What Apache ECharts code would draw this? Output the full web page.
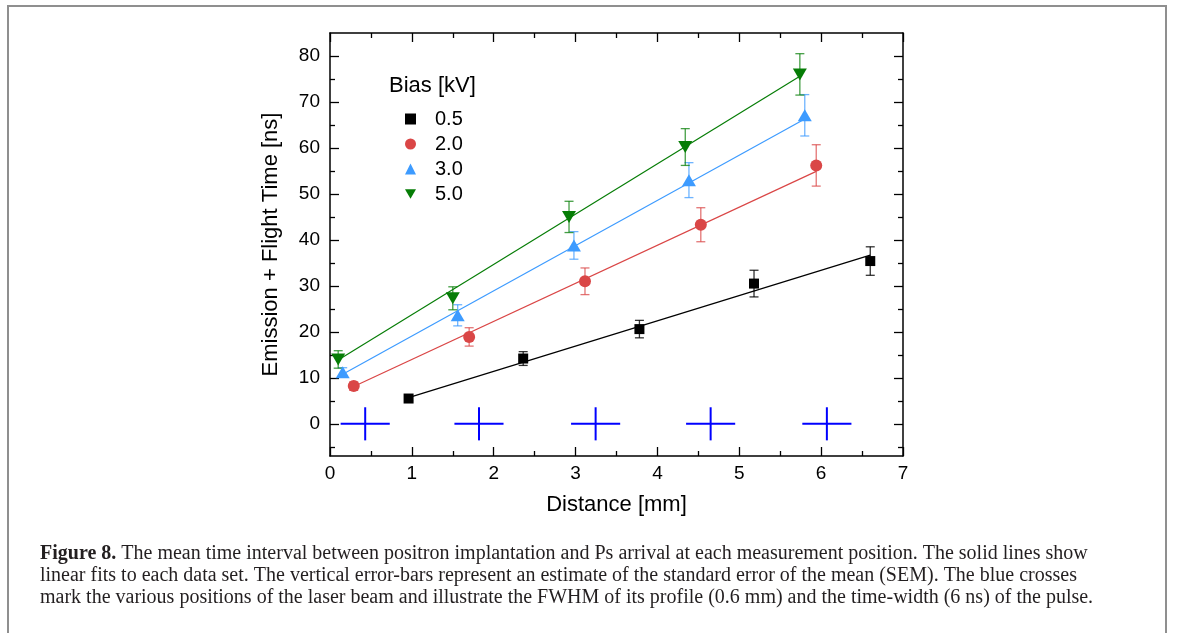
<!DOCTYPE html>
<html>
<head>
<meta charset="utf-8">
<script src="https://cdn.jsdelivr.net/npm/echarts@6/dist/echarts.min.js"></script>
<style>
html,body{margin:0;padding:0;background:#fff;}
#chart{width:1181px;height:633px;}
</style>
</head>
<body>
<div id="chart"></div>
<script>
// ---- data ----
const seriesNames = ['0.5', '2.0', '3.0', '5.0'];
const xBlack = [0.96, 2.36, 3.78, 5.18, 6.60];
const yBlack = [5.5, 14.2, 20.6, 30.5, 35.4];
const eBlack = [0.5, 1.5, 1.9, 2.9, 3.1];
const xRed = [0.29, 1.70, 3.115, 4.53, 5.94];
const yRed = [8.2, 18.9, 31.0, 43.3, 56.2];
const eRed = [0.9, 2.0, 2.9, 3.7, 4.5];
const xBlue = [0.155, 1.56, 2.98, 4.385, 5.80];
const yBlue = [11.2, 23.6, 38.8, 53.0, 67.1];
const eBlue = [1.0, 2.3, 3.0, 3.8, 4.5];
const xGreen = [0.10, 1.50, 2.92, 4.34, 5.74];
const yGreen = [14.0, 27.3, 45.0, 60.2, 76.0];
const eGreen = [1.9, 2.5, 3.4, 4.0, 4.5];
// linear fit end points
const fitBlack = [[0.96, 5.7], [6.60, 36.7]];
const fitRed = [[0.29, 8.1], [5.94, 54.9]];
const fitBlue = [[0.155, 10.8], [5.80, 66.3]];
const fitGreen = [[0.10, 13.9], [5.74, 75.6]];
// laser beam positions (blue crosses): centre x, centre y, half FWHM, half time-width
const crossX = [0.43, 1.82, 3.245, 4.65, 6.07];
const crossY = [0, 0, 0, 0, 0];
const crossHalfW = 0.3;
const crossHalfH = 3.6;
// ticks
const yLabelValues = [0, 10, 20, 30, 40, 50, 60, 70, 80];
const yMinorValues = [-5, 5, 15, 25, 35, 45, 55, 65, 75];
const xLabelValues = [0, 1, 2, 3, 4, 5, 6, 7];
const xMinorValues = [0.5, 1.5, 2.5, 3.5, 4.5, 5.5, 6.5];
const xMin = 0, xMax = 7, yMin = -7, yMax = 85;

const captionLines = [
  '{b|Figure 8.} The mean time interval between positron implantation and Ps arrival at each measurement position. The solid lines show',
  'linear fits to each data set. The vertical error-bars represent an estimate of the standard error of the mean (SEM). The blue crosses',
  'mark the various positions of the laser beam and illustrate the FWHM of its profile (0.6 mm) and the time-width (6 ns) of the pulse.'
];

// ---- build ----
const SANS = '"Liberation Sans", Arial, sans-serif';
const SERIF = '"Liberation Serif", "DejaVu Serif", serif';
const colors = { black: '#000000', red: '#da4646', blue: '#3d9bff', green: '#067d06' };
const errColors = {
  black: 'rgba(0,0,0,0.8)', red: 'rgba(218,70,70,0.75)', blue: 'rgba(61,155,255,0.75)', green: 'rgba(6,125,6,0.75)'
};
function pts(xs, ys) { return xs.map((x, i) => [x, ys[i]]); }
function errs(xs, ys, es) { return xs.map((x, i) => [x, ys[i] - es[i], ys[i] + es[i]]); }

function errRender(color) {
  return function (params, api) {
    const x = api.value(0), lo = api.value(1), hi = api.value(2);
    const p1 = api.coord([x, lo]), p2 = api.coord([x, hi]);
    const w = 4.5;
    const st = { stroke: color, lineWidth: 1.3 };
    return {
      type: 'group', children: [
        { type: 'line', shape: { x1: p1[0], y1: p1[1], x2: p2[0], y2: p2[1] }, style: st },
        { type: 'line', shape: { x1: p1[0] - w, y1: p1[1], x2: p1[0] + w, y2: p1[1] }, style: st },
        { type: 'line', shape: { x1: p2[0] - w, y1: p2[1], x2: p2[0] + w, y2: p2[1] }, style: st }
      ]
    };
  };
}
function crossRender(params, api) {
  const x = api.value(0), y = api.value(1);
  const l = api.coord([x - crossHalfW, y]), r = api.coord([x + crossHalfW, y]);
  const t = api.coord([x, y + crossHalfH]), b = api.coord([x, y - crossHalfH]);
  const st = { stroke: '#0000ff', lineWidth: 2 };
  return {
    type: 'group', children: [
      { type: 'line', shape: { x1: l[0], y1: l[1], x2: r[0], y2: r[1] }, style: st },
      { type: 'line', shape: { x1: t[0], y1: t[1], x2: b[0], y2: b[1] }, style: st }
    ]
  };
}

const groups = [
  { name: seriesNames[0], c: 'black', xs: xBlack, ys: yBlack, es: eBlack, fit: fitBlack, symbol: 'rect', size: 10 },
  { name: seriesNames[1], c: 'red', xs: xRed, ys: yRed, es: eRed, fit: fitRed, symbol: 'circle', size: 12 },
  { name: seriesNames[2], c: 'blue', xs: xBlue, ys: yBlue, es: eBlue, fit: fitBlue, symbol: 'triangle', size: [14, 12] },
  { name: seriesNames[3], c: 'green', xs: xGreen, ys: yGreen, es: eGreen, fit: fitGreen, symbol: 'path://M0,0L2,0L1,1.75Z', size: [14, 12] }
];

const series = [];
groups.forEach((g) => {
  series.push({
    name: 'fit-' + g.name, type: 'line', data: g.fit, showSymbol: false, symbol: 'none',
    lineStyle: { color: colors[g.c], width: 1.2 }, z: 2, silent: true, animation: false
  });
  series.push({
    name: 'err-' + g.name, type: 'custom', data: errs(g.xs, g.ys, g.es), renderItem: errRender(errColors[g.c]),
    z: 3, silent: true, animation: false
  });
});
groups.forEach((g) => {
  series.push({
    name: g.name, type: 'scatter', data: pts(g.xs, g.ys), symbol: g.symbol, symbolSize: g.size,
    itemStyle: { color: colors[g.c], opacity: 1 }, z: 5, animation: false
  });
});
series.push({
  name: 'laser', type: 'custom', data: pts(crossX, crossY), renderItem: crossRender, z: 4, silent: true, animation: false
});

// caption font size fitted to reference line width
const cv = document.createElement('canvas').getContext('2d');
cv.font = '17px ' + SERIF;
const plainLine1 = captionLines[0].replace('{b|', '').replace('}', '');
const w17 = cv.measureText(plainLine1).width;
let capSize = 17 * 1077 / w17;
capSize = Math.max(14, Math.min(20, capSize));

const captionGraphics = captionLines.map((t, i) => ({
  type: 'text', left: 40, top: 544 + i * 22,
  style: {
    text: t, fontFamily: SERIF, fontSize: capSize, fill: '#231f20',
    rich: { b: { fontFamily: SERIF, fontSize: capSize, fontWeight: 'bold', fill: '#231f20' } }
  }
}));

const axisLineStyle = { color: '#000', width: 1.5 };
const tickStyle = { color: '#000', width: 1.3 };
function tickAxis(kind, pos, values, len, withLine) {
  const isX = kind === 'x';
  return {
    type: 'value', min: isX ? xMin : yMin, max: isX ? xMax : yMax, position: pos,
    axisLine: { show: withLine, onZero: false, lineStyle: axisLineStyle },
    axisTick: { show: true, inside: true, length: len, customValues: values, lineStyle: tickStyle },
    axisLabel: { show: false }, splitLine: { show: false }
  };
}

const option = {
  backgroundColor: '#fff',
  animation: false,
  grid: { left: 330, top: 33, right: 278, bottom: 177, containLabel: false },
  legend: {
    data: seriesNames, orient: 'vertical', left: 400, top: 104,
    itemWidth: 11, itemHeight: 11, itemGap: 5,
    textStyle: { fontFamily: SANS, fontSize: 20, color: '#000', padding: [0, 0, 0, 14] },
    selectedMode: false
  },
  xAxis: [
    {
      type: 'value', min: xMin, max: xMax, position: 'bottom',
      name: 'Distance [mm]', nameLocation: 'middle', nameGap: 38,
      nameTextStyle: { fontFamily: SANS, fontSize: 22, color: '#000' },
      axisLine: { show: true, onZero: false, lineStyle: axisLineStyle },
      axisTick: { show: true, inside: true, length: 9, customValues: xLabelValues, lineStyle: tickStyle },
      axisLabel: { fontFamily: SANS, fontSize: 19, color: '#000', margin: 8, customValues: xLabelValues },
      splitLine: { show: false }
    },
    tickAxis('x', 'bottom', xMinorValues, 5, false),
    tickAxis('x', 'top', xLabelValues, 9, true),
    tickAxis('x', 'top', xMinorValues, 5, false)
  ],
  yAxis: [
    {
      type: 'value', min: yMin, max: yMax, position: 'left',
      name: 'Emission + Flight Time [ns]', nameLocation: 'middle', nameGap: 48, nameRotate: 90,
      nameTextStyle: { fontFamily: SANS, fontSize: 22, color: '#000' },
      axisLine: { show: true, onZero: false, lineStyle: axisLineStyle },
      axisTick: { show: true, inside: true, length: 9, customValues: yLabelValues, lineStyle: tickStyle },
      axisLabel: { fontFamily: SANS, fontSize: 19, color: '#000', margin: 10, customValues: yLabelValues },
      splitLine: { show: false }
    },
    tickAxis('y', 'left', yMinorValues, 5, false),
    tickAxis('y', 'right', yLabelValues, 9, true),
    tickAxis('y', 'right', yMinorValues, 5, false)
  ],
  graphic: [
    { type: 'rect', shape: { x: 8, y: 6, width: 1158, height: 700 }, style: { fill: 'none', stroke: '#8f8f8f', lineWidth: 2 }, z: -10 },
    { type: 'text', left: 389, top: 75, style: { text: 'Bias [kV]', fontFamily: SANS, fontSize: 22, fill: '#000' } }
  ].concat(captionGraphics),
  series: series
};

const chart = echarts.init(document.getElementById('chart'), null, { renderer: 'canvas' });
chart.setOption(option);
</script>
</body>
</html>
